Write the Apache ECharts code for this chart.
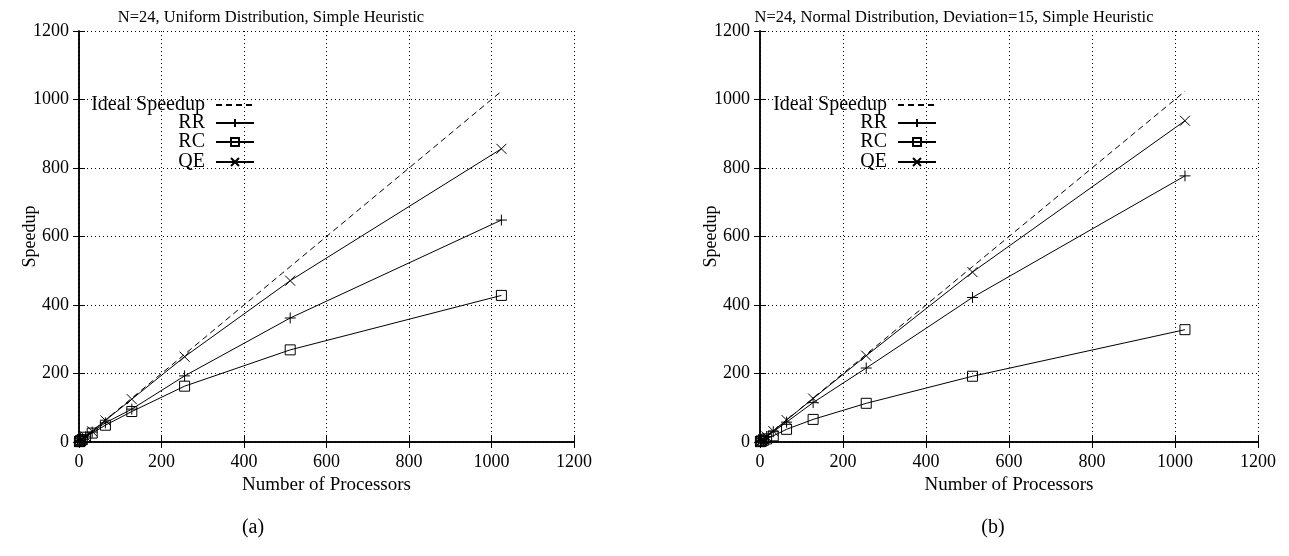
<!DOCTYPE html>
<html>
<head>
<meta charset="utf-8">
<script src="https://cdn.jsdelivr.net/npm/echarts@6/dist/echarts.min.js"></script>
<style>
  html, body { margin: 0; padding: 0; background: #fff; }
  #chart { width: 1289px; height: 556px; }
</style>
</head>
<body>
<div id="chart"></div>
<script>
// processors (x) for every series
const processors = [1, 2, 4, 8, 16, 32, 64, 128, 256, 512, 1024];
const ideal = [1, 2, 4, 8, 16, 32, 64, 128, 256, 512, 1024];

// (a) uniform distribution
const rrUniform = [1, 2, 4, 8, 15, 29, 56, 96, 193, 362, 648];
const rcUniform = [1, 2, 4, 7, 14, 26, 49, 89, 163, 269, 428];
const qeUniform = [1, 2, 4, 8, 16, 31, 63, 125, 249, 471, 856];

// (b) normal distribution, deviation 15
const rrNormal = [1, 2, 4, 8, 16, 30, 58, 115, 216, 422, 777];
const rcNormal = [1, 2, 3, 5, 9, 18, 37, 66, 113, 192, 328];
const qeNormal = [1, 2, 4, 8, 16, 32, 64, 127, 252, 496, 938];

const titles = [
  "N=24, Uniform Distribution, Simple Heuristic",
  "N=24, Normal Distribution, Deviation=15, Simple Heuristic"
];
const captions = ["(a)", "(b)"];
const legendNames = ["Ideal Speedup", "RR", "RC", "QE"];

const FONT = "Liberation Serif";
const pair = (ys) => processors.map((x, i) => [x, ys[i]]);

const PLUS = "path://M5,0L5,10M0,5L10,5";
const CROSS = "path://M0,0L10,10M10,0L0,10";

const grids = [
  { left: 79, top: 31, width: 495, height: 411 },
  { left: 760, top: 31, width: 498, height: 411 }
];

const tickFmt = (v) => String(v);

function xAxes(g) {
  return [
    {
      type: "value", gridIndex: g, min: 0, max: 1200, interval: 200,
      name: "Number of Processors", nameLocation: "middle", nameGap: 33,
      nameTextStyle: { fontFamily: FONT, fontSize: 19, color: "#000" },
      axisLine: { lineStyle: { color: "#000", width: 1.5 } },
      axisTick: { inside: true, length: 6, lineStyle: { color: "#000" } },
      axisLabel: { fontFamily: FONT, fontSize: 18, color: "#000", margin: 11, formatter: tickFmt },
      splitLine: { show: true, lineStyle: { color: "#000", type: [1, 3], width: 1 } }
    },
    {
      type: "value", gridIndex: g, position: "top", min: 0, max: 1200, interval: 200,
      axisLine: { lineStyle: { color: "#000", width: 1.5 } },
      axisTick: { inside: true, length: 6, lineStyle: { color: "#000" } },
      axisLabel: { show: false }, splitLine: { show: false }
    }
  ];
}

function yAxes(g) {
  return [
    {
      type: "value", gridIndex: g, min: 0, max: 1200, interval: 200,
      name: "Speedup", nameLocation: "middle", nameGap: 40, nameMoveOverlap: false,
      nameTextStyle: { fontFamily: FONT, fontSize: 18, color: "#000" },
      axisLine: { show: true, lineStyle: { color: "#000", width: 1.5 } },
      axisTick: { show: true, inside: true, length: 6, lineStyle: { color: "#000" } },
      axisLabel: { fontFamily: FONT, fontSize: 18, color: "#000", margin: 10, formatter: tickFmt },
      splitLine: { show: true, lineStyle: { color: "#000", type: [1, 3], width: 1 } }
    },
    {
      type: "value", gridIndex: g, position: "right", min: 0, max: 1200, interval: 200,
      axisLine: { show: true, lineStyle: { color: "#000", width: 1.5 } },
      axisTick: { show: true, inside: true, length: 6, lineStyle: { color: "#000" } },
      axisLabel: { show: false }, splitLine: { show: false }
    }
  ];
}

function makeSeries(g, rr, rc, qe) {
  const base = {
    type: "line", xAxisIndex: g * 2, yAxisIndex: g * 2,
    lineStyle: { color: "#000", width: 1 },
    itemStyle: { color: "rgba(0,0,0,0)", borderColor: "#000", borderWidth: 1 },
    symbolKeepAspect: true, showAllSymbol: true
  };
  return [
    Object.assign({}, base, {
      name: "Ideal Speedup", data: pair(ideal), symbol: "none",
      lineStyle: { color: "#000", width: 1, type: [6, 4] }
    }),
    Object.assign({}, base, { name: "RR", data: pair(rr), symbol: PLUS, symbolSize: 11 }),
    Object.assign({}, base, { name: "RC", data: pair(rc), symbol: "rect", symbolSize: 10 }),
    Object.assign({}, base, { name: "QE", data: pair(qe), symbol: CROSS, symbolSize: 10 })
  ];
}

function makeLegends(rightPx) {
  const tops = [95, 113, 132, 152];
  return legendNames.map((n, i) => ({
    data: [i === 0 ? { name: n, itemStyle: { opacity: 0 } } : n],
    right: rightPx, top: tops[i], align: "right", orient: "vertical",
    itemWidth: 38, itemHeight: 10, selectedMode: false, padding: 0,
    textStyle: { fontFamily: FONT, fontSize: 20, color: "#000", padding: [0, 6, 0, 0] }
  }));
}

const chart = echarts.init(document.getElementById("chart"), null, { renderer: "canvas" });
chart.setOption({
  animation: false,
  backgroundColor: "#fff",
  title: [
    { text: titles[0], left: 266, top: 4, textAlign: "center",
      textStyle: { fontFamily: FONT, fontSize: 16.5, fontWeight: "normal", color: "#000" } },
    { text: titles[1], left: 949, top: 4, textAlign: "center",
      textStyle: { fontFamily: FONT, fontSize: 16.5, fontWeight: "normal", color: "#000" } },
    { text: captions[0], left: 248, top: 513, textAlign: "center",
      textStyle: { fontFamily: FONT, fontSize: 20, fontWeight: "normal", color: "#000" } },
    { text: captions[1], left: 988, top: 513, textAlign: "center",
      textStyle: { fontFamily: FONT, fontSize: 20, fontWeight: "normal", color: "#000" } }
  ],
  legend: makeLegends(1289 - 255).concat(makeLegends(1289 - 937)),
  grid: grids,
  xAxis: xAxes(0).concat(xAxes(1)),
  yAxis: yAxes(0).concat(yAxes(1)),
  series: makeSeries(0, rrUniform, rcUniform, qeUniform)
    .concat(makeSeries(1, rrNormal, rcNormal, qeNormal))
});
</script>
</body>
</html>
